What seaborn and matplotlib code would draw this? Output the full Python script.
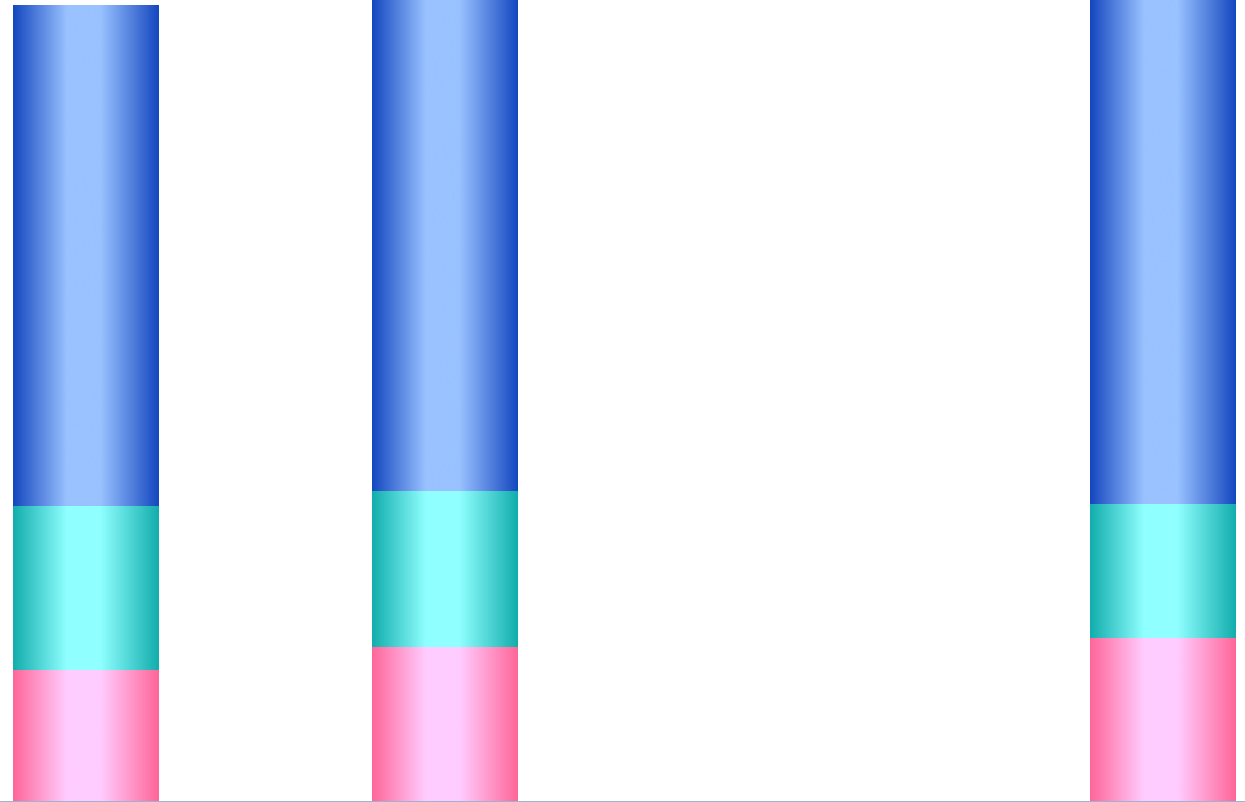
import numpy as np
import pandas as pd
import matplotlib
matplotlib.use("Agg")
import matplotlib.pyplot as plt
import seaborn as sns
from matplotlib.colors import to_rgb

# Category slots along the x axis; the third slot has no data
categories = ["A", "B", "C", "D"]
bar_categories = ["A", "B", "D"]
pink_values = [16.3, 19.1, 20.3]
teal_values = [20.4, 19.5, 16.7]
blue_values = [62.5, 66.0, 68.0]

# Gradient colours: (edge, centre)
pink_colors = ("#ff6699", "#ffccff")
teal_colors = ("#12adad", "#90ffff")
blue_colors = ("#1447c0", "#99c2ff")

sns.set_theme(style="white")

df = pd.DataFrame({
    "category": bar_categories,
    "pink": pink_values,
    "teal": teal_values,
    "blue": blue_values,
})
df["pink_top"] = df["pink"]
df["teal_top"] = df["pink"] + df["teal"]
df["blue_top"] = df["teal_top"] + df["blue"]

fig = plt.figure(figsize=(12.45, 8.03), dpi=100)
ax = fig.add_axes([0, 0, 1, 1])

bar_width = 0.404
px = 8.02  # pixels per value unit on the y axis


def gradient(edge, centre, n=512):
    e = np.array(to_rgb(edge))
    c = np.array(to_rgb(centre))
    t = np.linspace(0, 1, n)
    # horizontal stops: dark edge -> light centre plateau -> dark edge
    w = np.interp(t, [0.0, 0.37, 0.6, 1.0], [0.0, 1.0, 1.0, 0.0])
    img = e[None, :] * (1 - w[:, None]) + c[None, :] * w[:, None]
    return img[None, :, :]


layers = [("blue_top", blue_colors), ("teal_top", teal_colors), ("pink_top", pink_colors)]
for z, (col, colors) in enumerate(layers):
    n_before = len(ax.patches)
    sns.barplot(data=df, x="category", y=col, order=categories, width=bar_width,
                color=colors[0], ax=ax, errorbar=None)
    img = gradient(*colors)
    for p in ax.patches[n_before:]:
        h = p.get_height()
        if not np.isfinite(h) or h == 0:
            continue
        x0 = p.get_x()
        w = p.get_width()
        p.set_visible(False)
        ax.imshow(img, extent=(x0, x0 + w, 0, h), aspect="auto",
                  interpolation="bilinear", zorder=2 + z)

ax.set_xlim(-0.238, 3.230)
ax.set_ylim(-1 / px, 802 / px)
ax.set_xlabel("")
ax.set_ylabel("")
ax.set_xticks([])
ax.set_yticks([])
for side in ["top", "left", "right", "bottom"]:
    ax.spines[side].set_visible(False)
# baseline of the category axis
ax.axhline(-0.5 / px, color="#7f9cc4", linewidth=1.1, zorder=10, clip_on=False)

fig.savefig("out.png", dpi=100)
